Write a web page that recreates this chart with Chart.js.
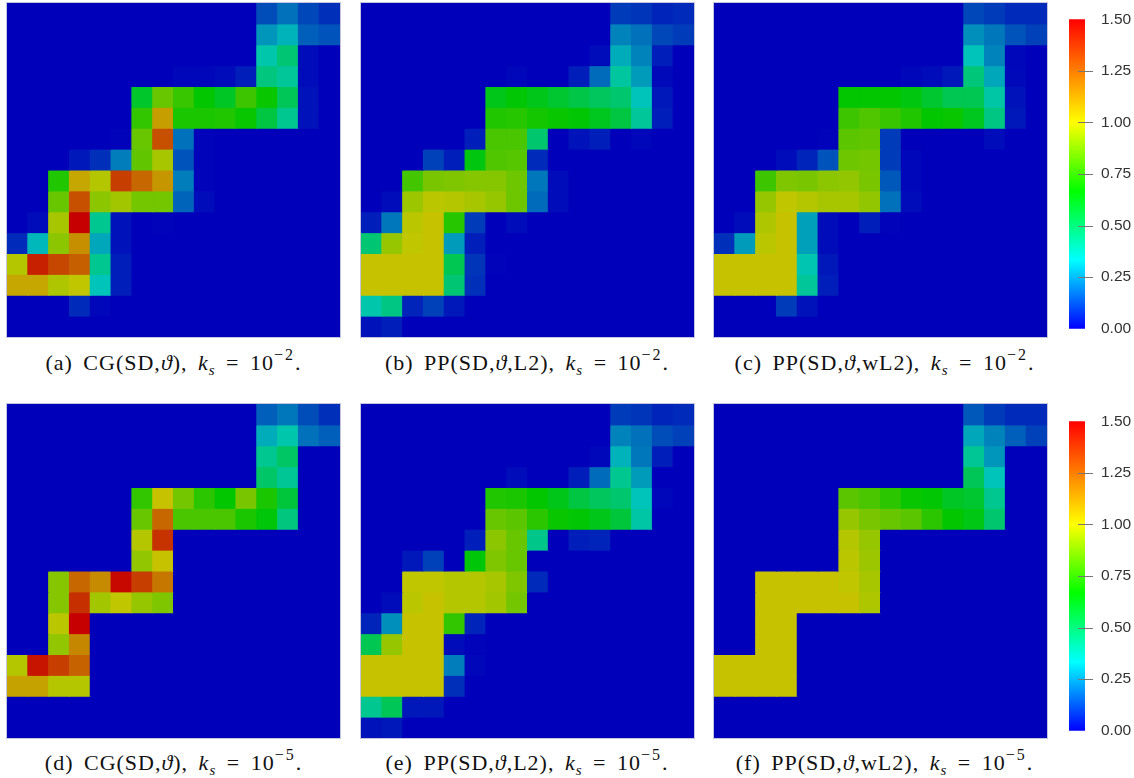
<!DOCTYPE html>
<html>
<head>
<meta charset="utf-8">
<title>CG and PP fields</title>
<script src="https://cdn.jsdelivr.net/npm/chart.js@4/dist/chart.umd.min.js"></script>
<style>
  html, body { margin: 0; padding: 0; background: #fff; overflow: hidden; }
  canvas { position: absolute; display: block; }
  .cell { outline: 1px solid #c4c4dc; filter: blur(0.4px); }
  .cap { position: absolute; width: 340px; text-align: center; font: 22px "Liberation Serif", serif; color: #111; white-space: nowrap; line-height: 26px; letter-spacing: 1px; word-spacing: 4px; }
  .cap sup { font-size: 16px; line-height: 0; position: relative; top: -2px; vertical-align: super; letter-spacing: 2px; }
  .cap sub { font-size: 15px; line-height: 0; font-style: italic; }
</style>
</head>
<body>
<script>
// values, row 0 is the top row, column 0 the left one
const panelA = [
  [0,0,0,0,0,0,0,0,0,0,0,0,.13,.19,.12,.08],
  [0,0,0,0,0,0,0,0,0,0,0,0,.25,.30,.16,.14],
  [0,0,0,0,0,0,0,0,0,0,0,0,.36,.46,.02,0],
  [0,0,0,0,0,0,0,0,.01,.01,.02,.05,.44,.39,.02,0],
  [0,0,0,0,0,0,.59,.84,.76,.67,.60,.77,.68,.51,.03,0],
  [0,0,0,0,0,0,.75,1.10,.71,.71,.72,.68,.55,.41,.03,0],
  [0,0,0,0,0,.005,.84,1.30,.19,.005,0,0,0,0,0,0],
  [0,0,0,.04,.08,.21,.83,.95,.14,.005,0,0,0,0,0,0],
  [0,0,.72,1.08,.97,1.34,1.24,1.12,.21,.005,0,0,0,0,0,0],
  [0,0,.84,1.30,.90,.94,.86,.86,.17,.02,0,0,0,0,0,0],
  [0,.02,.95,1.50,.41,.03,0,.005,0,0,0,0,0,0,0,0],
  [.07,.31,.90,1.14,.28,.03,0,0,0,0,0,0,0,0,0,0],
  [.97,1.42,1.32,1.26,.41,.05,0,0,0,0,0,0,0,0,0,0],
  [1.08,1.08,.96,.99,.33,.05,0,0,0,0,0,0,0,0,0,0],
  [0,0,0,.07,.01,0,0,0,0,0,0,0,0,0,0,0],
  [0,0,0,0,0,0,0,0,0,0,0,0,0,0,0,0]
];
const panelB = [
  [0,0,0,0,0,0,0,0,0,0,0,0,.10,.09,.06,.07],
  [0,0,0,0,0,0,0,0,0,0,0,0,.22,.19,.12,.10],
  [0,0,0,0,0,0,0,0,0,0,0,.02,.29,.22,.05,0],
  [0,0,0,0,0,0,0,.01,0,0,.05,.18,.38,.26,.015,0],
  [0,0,0,0,0,0,.62,.66,.62,.58,.54,.50,.47,.33,.04,0],
  [0,0,0,0,0,0,.72,.73,.70,.68,.66,.61,.55,.39,.05,0],
  [0,0,0,0,0,.05,.79,.79,.47,0,.03,.05,0,.01,0,0],
  [0,0,0,.11,.05,.64,.80,.81,.07,0,0,0,0,0,0,0],
  [0,0,.78,.87,.88,.89,.89,.85,.20,.02,0,0,0,0,0,0],
  [0,.02,.93,.98,.97,.95,.92,.85,.18,.02,0,0,0,0,0,0],
  [.05,.20,.98,1.01,.73,.10,0,.02,0,0,0,0,0,0,0,0],
  [.46,.92,.99,1.01,.26,.05,0,0,0,0,0,0,0,0,0,0],
  [1.01,1.01,1.01,1.01,.52,.09,.005,0,0,0,0,0,0,0,0,0],
  [1.01,1.01,1.01,1.01,.46,.08,0,0,0,0,0,0,0,0,0,0],
  [.36,.43,.06,.11,.04,0,0,0,0,0,0,0,0,0,0,0],
  [.03,.05,0,0,0,0,0,0,0,0,0,0,0,0,0,0]
];
const panelC = [
  [0,0,0,0,0,0,0,0,0,0,0,0,.12,.10,.07,.07],
  [0,0,0,0,0,0,0,0,0,0,0,0,.24,.20,.14,.11],
  [0,0,0,0,0,0,0,0,0,0,0,0,.33,.22,.01,0],
  [0,0,0,0,0,0,0,0,0,.01,.02,.04,.45,.28,.015,0],
  [0,0,0,0,0,0,.67,.67,.67,.64,.58,.52,.52,.37,.03,0],
  [0,0,0,0,0,0,.77,.80,.76,.72,.67,.68,.61,.43,.04,0],
  [0,0,0,0,0,.005,.82,.83,.10,0,0,0,0,.02,0,0],
  [0,0,0,.02,.06,.14,.85,.86,.10,.01,0,0,0,0,0,0],
  [0,0,.77,.88,.87,.90,.91,.87,.15,.01,0,0,0,0,0,0],
  [0,0,.92,.99,.97,.95,.95,.91,.19,.02,0,0,0,0,0,0],
  [0,.02,.96,1.01,.27,.02,0,.05,.005,0,0,0,0,0,0,0],
  [.08,.26,.98,1.01,.27,.02,0,0,0,0,0,0,0,0,0,0],
  [1.01,1.01,1.01,1.01,.35,.04,0,0,0,0,0,0,0,0,0,0],
  [1.01,1.01,1.01,1.01,.39,.05,0,0,0,0,0,0,0,0,0,0],
  [0,0,0,.10,.03,0,0,0,0,0,0,0,0,0,0,0],
  [0,0,0,0,0,0,0,0,0,0,0,0,0,0,0,0]
];
const panelD = [
  [0,0,0,0,0,0,0,0,0,0,0,0,.16,.20,.13,.08],
  [0,0,0,0,0,0,0,0,0,0,0,0,.29,.36,.19,.16],
  [0,0,0,0,0,0,0,0,0,0,0,0,.41,.49,0,0],
  [0,0,0,0,0,0,0,0,0,0,0,0,.48,.40,0,0],
  [0,0,0,0,0,0,.75,1.01,.86,.74,.67,.87,.71,.56,0,0],
  [0,0,0,0,0,0,.84,1.24,.79,.79,.79,.71,.65,.44,0,0],
  [0,0,0,0,0,0,.97,1.37,0,0,0,0,0,0,0,0],
  [0,0,0,0,0,0,.91,1.01,0,0,0,0,0,0,0,0],
  [0,0,.89,1.24,1.15,1.48,1.34,1.20,0,0,0,0,0,0,0,0],
  [0,0,.89,1.38,.94,.99,.92,.88,0,0,0,0,0,0,0,0],
  [0,0,.98,1.50,0,0,0,0,0,0,0,0,0,0,0,0],
  [0,0,.91,1.16,0,0,0,0,0,0,0,0,0,0,0,0],
  [.97,1.45,1.34,1.25,0,0,0,0,0,0,0,0,0,0,0,0],
  [1.09,1.09,.97,.97,0,0,0,0,0,0,0,0,0,0,0,0],
  [0,0,0,0,0,0,0,0,0,0,0,0,0,0,0,0],
  [0,0,0,0,0,0,0,0,0,0,0,0,0,0,0,0]
];
const panelE = [
  [0,0,0,0,0,0,0,0,0,0,0,0,.10,.09,.06,.07],
  [0,0,0,0,0,0,0,0,0,0,0,0,.22,.19,.13,.11],
  [0,0,0,0,0,0,0,0,0,0,0,.01,.30,.20,.05,0],
  [0,0,0,0,0,0,0,.02,0,0,.05,.18,.41,.26,0,0],
  [0,0,0,0,0,0,.72,.71,.67,.62,.55,.50,.47,.33,.01,0],
  [0,0,0,0,0,0,.84,.82,.74,.68,.66,.62,.56,.37,0,0],
  [0,0,0,0,0,.05,.90,.84,.42,0,.05,.06,0,0,0,0],
  [0,0,.04,.11,0,.65,.88,.84,0,0,0,0,0,0,0,0],
  [0,0,.99,.99,.97,.97,.95,.88,.07,0,0,0,0,0,0,0],
  [0,.02,.98,1.01,.97,.97,.94,.86,0,0,0,0,0,0,0,0],
  [.06,.24,1.01,1.01,.75,.06,0,0,0,0,0,0,0,0,0,0],
  [.52,.92,1.01,1.01,.02,.005,0,0,0,0,0,0,0,0,0,0],
  [1.01,1.01,1.01,1.01,.21,.01,0,0,0,0,0,0,0,0,0,0],
  [1.01,1.01,1.01,1.01,.08,0,0,0,0,0,0,0,0,0,0,0],
  [.41,.51,.04,.04,0,0,0,0,0,0,0,0,0,0,0,0],
  [.03,.04,0,0,0,0,0,0,0,0,0,0,0,0,0,0]
];
const panelF = [
  [0,0,0,0,0,0,0,0,0,0,0,0,.15,.10,.07,.07],
  [0,0,0,0,0,0,0,0,0,0,0,0,.28,.22,.16,.11],
  [0,0,0,0,0,0,0,0,0,0,0,0,.40,.25,0,0],
  [0,0,0,0,0,0,0,0,0,0,0,0,.51,.33,0,0],
  [0,0,0,0,0,0,.82,.79,.74,.68,.66,.60,.58,.41,0,0],
  [0,0,0,0,0,0,.92,.87,.84,.82,.74,.67,.63,.47,0,0],
  [0,0,0,0,0,0,.97,.92,0,0,0,0,0,0,0,0],
  [0,0,0,0,0,0,.98,.93,0,0,0,0,0,0,0,0],
  [0,0,1.01,1.01,1.01,1.01,.99,.95,0,0,0,0,0,0,0,0],
  [0,0,1.01,1.01,1.01,1.01,1.01,.96,0,0,0,0,0,0,0,0],
  [0,0,1.01,1.01,0,0,0,0,0,0,0,0,0,0,0,0],
  [0,0,1.01,1.01,0,0,0,0,0,0,0,0,0,0,0,0],
  [1.01,1.01,1.01,1.01,0,0,0,0,0,0,0,0,0,0,0,0],
  [1.01,1.01,1.01,1.01,0,0,0,0,0,0,0,0,0,0,0,0],
  [0,0,0,0,0,0,0,0,0,0,0,0,0,0,0,0],
  [0,0,0,0,0,0,0,0,0,0,0,0,0,0,0,0]
];
const captionNames = ['(a) CG(SD,ϑ), ', '(b) PP(SD,ϑ,L2), ', '(c) PP(SD,ϑ,wL2), ', '(d) CG(SD,ϑ), ', '(e) PP(SD,ϑ,L2), ', '(f) PP(SD,ϑ,wL2), '];
const captionExps = ['−2', '−2', '−2', '−5', '−5', '−5'];
const barTicks = [0, 0.25, 0.5, 0.75, 1, 1.25, 1.5];
const columns = ['0','1','2','3','4','5','6','7','8','9','10','11','12','13','14','15'];

// rainbow map of the colour bar
const mapStops = [0, 1/3, 2/3, 1, 1.5];
const mapColors = [[0,0,1],[0,1,1],[0,1,0],[1,1,0],[1,0,0]];

function mapColor(v, scaleR, scaleG, scaleB) {
  let i = 0;
  while (i < mapStops.length - 2 && v > mapStops[i+1]) i++;
  const t = Math.min(1, (v - mapStops[i]) / (mapStops[i+1] - mapStops[i]));
  const a = mapColors[i], b = mapColors[i+1];
  const r = Math.round((a[0] + (b[0]-a[0])*t) * scaleR);
  const g = Math.round((a[1] + (b[1]-a[1])*t) * scaleG);
  const bl = Math.round((a[2] + (b[2]-a[2])*t) * scaleB);
  return 'rgb(' + r + ',' + g + ',' + bl + ')';
}

function addCanvas(left, top, w, h, cls) {
  const c = document.createElement('canvas');
  c.width = w; c.height = h;
  c.style.left = left + 'px';
  c.style.top = top + 'px';
  c.style.width = w + 'px';
  c.style.height = h + 'px';
  if (cls) c.className = cls;
  document.body.appendChild(c);
  return c;
}

function heatmap(values, left, top) {
  const datasets = values.map(function (row, r) {
    const bottom = 15 - r;
    return {
      data: row.map(function () { return [bottom, bottom + 1]; }),
      backgroundColor: row.map(function (v) { return mapColor(v, 198, 198, 186); }),
      borderWidth: 0,
      inflateAmount: 0.5,
      barPercentage: 1,
      categoryPercentage: 1,
      grouped: false
    };
  });
  new Chart(addCanvas(left, top, 333, 334, 'cell'), {
    type: 'bar',
    data: { labels: columns, datasets: datasets },
    options: {
      responsive: false,
      animation: false,
      layout: { padding: 0 },
      plugins: { legend: { display: false }, tooltip: { enabled: false } },
      scales: {
        x: { display: false },
        y: { display: false, min: 0, max: 16 }
      }
    }
  });
}

// short tick lines that start in the middle of the bar
const barTickLines = {
  id: 'barTickLines',
  afterDraw(chart) {
    const y = chart.scales.y, a = chart.chartArea, ctx = chart.ctx;
    ctx.save();
    ctx.strokeStyle = '#777';
    ctx.lineWidth = 1;
    barTicks.slice(1, -1).forEach(function (t) {
      const py = Math.round(y.getPixelForValue(t)) + 0.5;
      ctx.beginPath();
      ctx.moveTo((a.left + a.right) / 2 + 1, py);
      ctx.lineTo(a.right + 8, py);
      ctx.stroke();
    });
    ctx.restore();
  }
};

function colorBar(left, top) {
  new Chart(addCanvas(left, top, 65, 344), {
    type: 'bar',
    data: {
      labels: ['bar'],
      datasets: [{
        data: [[0, 1.5]],
        barPercentage: 1,
        categoryPercentage: 1,
        borderWidth: 0,
        backgroundColor: function (ctx) {
          const area = ctx.chart.chartArea;
          if (!area) return '#00f';
          const g = ctx.chart.ctx.createLinearGradient(0, area.bottom, 0, area.top);
          mapStops.forEach(function (s, i) {
            g.addColorStop(s / 1.5, mapColor(s, 255, 255, 255));
          });
          return g;
        }
      }]
    },
    options: {
      responsive: false,
      animation: false,
      layout: { padding: { top: 11, bottom: 11 } },
      plugins: { legend: { display: false }, tooltip: { enabled: false } },
      scales: {
        x: { display: false },
        y: {
          position: 'right',
          min: 0,
          max: 1.5,
          afterFit: function (s) { s.width = 49; },
          afterBuildTicks: function (s) { s.ticks = barTicks.map(function (v) { return { value: v }; }); },
          border: { display: false },
          grid: { display: false },
          ticks: {
            padding: 8,
            color: '#333',
            font: { family: '"Liberation Sans"', size: 15.5 },
            callback: function (v) { return Number(v).toFixed(2); }
          }
        }
      }
    },
    plugins: [barTickLines]
  });
}

function caption(i, center, top) {
  const d = document.createElement('div');
  d.className = 'cap';
  d.style.left = (center - 170) + 'px';
  d.style.top = top + 'px';
  d.innerHTML = captionNames[i].replace('ϑ', '<i>ϑ</i>') + '<i>k</i><sub>s</sub> = 10<sup>' + captionExps[i] + '</sup>.';
  document.body.appendChild(d);
}

const panels = [panelA, panelB, panelC, panelD, panelE, panelF];
const lefts = [7, 361, 714];
const tops = [3, 404];
const capCenters = [173.5, 527, 884.5];
const capTops = [350, 750];

panels.forEach(function (p, i) {
  const col = i % 3, line = Math.floor(i / 3);
  heatmap(p, lefts[col], tops[line]);
  caption(i, capCenters[col], capTops[line]);
});
colorBar(1069, 2);
colorBar(1069, 404);
</script>
</body>
</html>
